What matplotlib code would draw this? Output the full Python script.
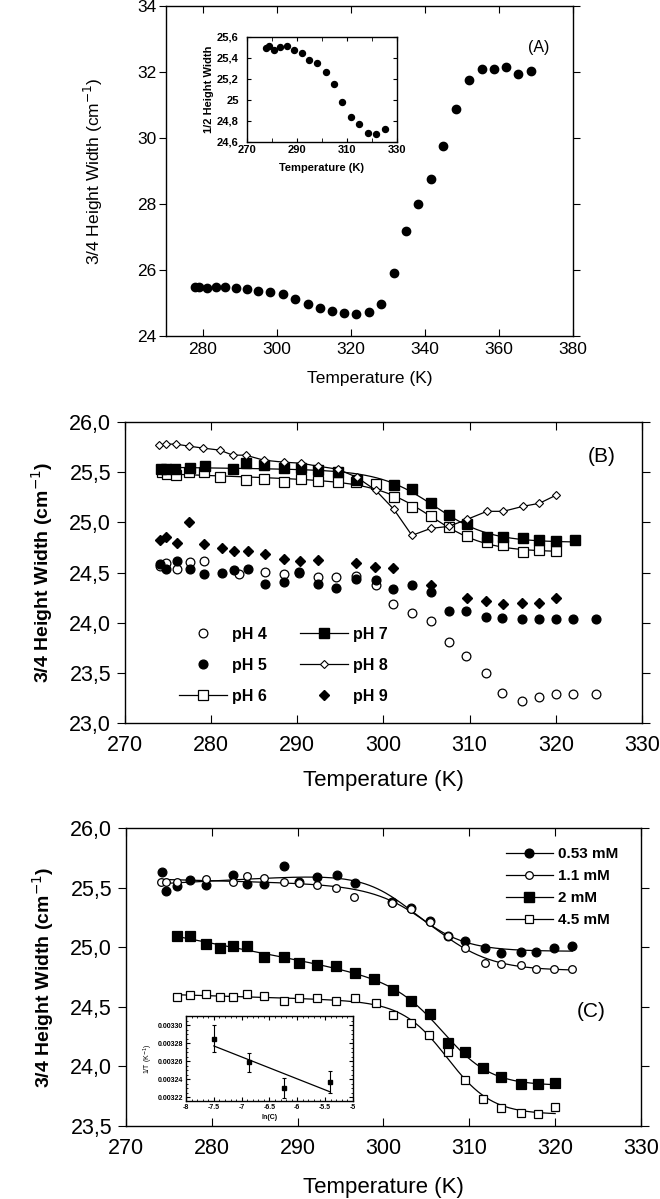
import matplotlib
matplotlib.use('Agg')
import matplotlib.pyplot as plt
from matplotlib.ticker import FuncFormatter, MultipleLocator, AutoMinorLocator
from matplotlib.lines import Line2D
import numpy as np

plt.rcParams['font.family'] = ['Liberation Sans', 'DejaVu Sans']
plt.rcParams['axes.unicode_minus'] = False
plt.rcParams['axes.linewidth'] = 1.0

# ---- panel A : 3/4 height width vs temperature
a_temp = [277.8, 279.0, 281.0, 283.4, 286.0, 288.9, 291.8, 294.9, 298.2, 301.7,
          305.0, 308.3, 311.5, 314.8, 318.1, 321.4, 324.8, 328.2, 331.6, 334.9,
          338.2, 341.7, 344.9, 348.3, 351.8, 355.3, 358.7, 362.0, 365.2, 368.7]
a_width = [25.47, 25.49, 25.45, 25.49, 25.49, 25.46, 25.43, 25.36, 25.33, 25.26,
           25.13, 24.98, 24.84, 24.77, 24.69, 24.68, 24.72, 24.96, 25.91, 27.19,
           28.00, 28.76, 29.76, 30.89, 31.75, 32.08, 32.08, 32.15, 31.95, 32.02]

# inset of panel A : 1/2 height width
ai_temp = [277.6, 278.9, 281.0, 283.2, 285.9, 288.9, 292.0, 295.0, 298.0, 301.7,
           305.0, 308.1, 311.6, 314.9, 318.4, 321.7, 325.2]
ai_width = [25.49, 25.51, 25.48, 25.50, 25.51, 25.48, 25.45, 25.38, 25.35, 25.27,
            25.15, 24.98, 24.84, 24.77, 24.69, 24.68, 24.72]

# ---- panel B : pH series
ph4_t = [274.1, 274.8, 276.0, 277.5, 279.2, 283.2, 286.3, 288.5, 290.2, 292.4,
         294.5, 296.8, 299.1, 301.1, 303.3, 305.5, 307.6, 309.6, 311.9, 313.8,
         316.1, 318.0, 320.0, 322.0, 324.7]
ph4_w = [24.57, 24.59, 24.54, 24.60, 24.61, 24.49, 24.51, 24.49, 24.50, 24.46,
         24.46, 24.47, 24.38, 24.19, 24.10, 24.02, 23.81, 23.67, 23.50, 23.30,
         23.22, 23.26, 23.29, 23.29, 23.29]

ph5_t = [274.1, 274.8, 276.0, 277.5, 279.2, 281.2, 282.6, 284.3, 286.3, 288.5,
         290.2, 292.4, 294.5, 296.8, 299.1, 301.1, 303.3, 305.5, 307.6, 309.6,
         311.9, 313.8, 316.1, 318.0, 320.0, 322.0, 324.7]
ph5_w = [24.58, 24.54, 24.61, 24.54, 24.49, 24.50, 24.53, 24.54, 24.39, 24.41,
         24.51, 24.39, 24.35, 24.44, 24.43, 24.34, 24.38, 24.31, 24.12, 24.12,
         24.06, 24.05, 24.04, 24.04, 24.04, 24.04, 24.04]

ph6_t = [274.3, 274.9, 275.9, 277.4, 279.2, 281.0, 284.0, 286.1, 288.4, 290.4,
         292.4, 294.7, 296.8, 299.1, 301.2, 303.3, 305.5, 307.6, 309.7, 312.0,
         313.9, 316.2, 318.1, 320.0]
ph6_w = [25.50, 25.48, 25.47, 25.50, 25.50, 25.45, 25.42, 25.43, 25.40, 25.43,
         25.41, 25.40, 25.40, 25.38, 25.25, 25.15, 25.06, 24.95, 24.86, 24.80,
         24.77, 24.70, 24.72, 24.71]

ph7_t = [274.2, 274.8, 275.8, 277.5, 279.3, 282.5, 284.0, 286.1, 288.4, 290.4,
         292.4, 294.7, 296.9, 301.2, 303.3, 305.5, 307.6, 309.7, 312.0, 313.9,
         316.2, 318.1, 320.0, 322.2]
ph7_w = [25.53, 25.53, 25.53, 25.54, 25.56, 25.53, 25.59, 25.57, 25.54, 25.54,
         25.52, 25.50, 25.42, 25.37, 25.33, 25.19, 25.07, 24.98, 24.85, 24.85,
         24.84, 24.82, 24.81, 24.82]

ph8_t = [274.0, 274.7, 275.9, 277.4, 279.1, 281.0, 282.5, 284.0, 286.1, 288.4,
         290.4, 292.4, 294.7, 296.9, 299.1, 301.2, 303.3, 305.5, 307.6, 309.7,
         312.0, 313.9, 316.2, 318.1, 320.0]
ph8_w = [25.77, 25.78, 25.78, 25.76, 25.74, 25.72, 25.67, 25.67, 25.62, 25.60,
         25.59, 25.56, 25.53, 25.45, 25.32, 25.13, 24.87, 24.94, 24.96, 25.03,
         25.11, 25.11, 25.16, 25.19, 25.27]

ph9_t = [274.1, 274.8, 276.0, 277.4, 279.2, 281.2, 282.6, 284.3, 286.3, 288.4,
         290.3, 292.4, 296.8, 299.0, 301.1, 305.5, 309.7, 311.9, 313.9, 316.1,
         318.0, 320.0]
ph9_w = [24.82, 24.85, 24.79, 25.00, 24.78, 24.74, 24.71, 24.71, 24.68, 24.63,
         24.61, 24.62, 24.59, 24.56, 24.55, 24.38, 24.25, 24.22, 24.19, 24.20,
         24.20, 24.25]

# ---- panel C : concentration series
c053_t = [274.2, 274.7, 276.0, 277.5, 279.3, 282.5, 284.1, 286.1, 288.4, 290.2,
          292.3, 294.6, 296.7, 301.0, 303.2, 305.4, 307.5, 309.5, 311.8, 313.7,
          316.0, 317.8, 319.9, 322.0]
c053_w = [25.63, 25.47, 25.51, 25.56, 25.52, 25.61, 25.53, 25.53, 25.68, 25.55,
          25.59, 25.61, 25.54, 25.38, 25.33, 25.22, 25.09, 25.05, 24.99, 24.95,
          24.96, 24.96, 24.99, 25.01]

c11_t = [274.1, 274.7, 276.0, 279.3, 282.5, 284.1, 286.1, 288.4, 290.2, 292.3,
         294.5, 296.6, 301.0, 303.2, 305.4, 307.5, 309.5, 311.8, 313.7, 316.0,
         317.8, 319.9, 322.0]
c11_w = [25.55, 25.55, 25.55, 25.57, 25.55, 25.60, 25.58, 25.55, 25.54, 25.52,
         25.50, 25.42, 25.37, 25.32, 25.21, 25.09, 24.99, 24.87, 24.86, 24.85,
         24.82, 24.82, 24.82]

c2_t = [276.0, 277.5, 279.3, 281.0, 282.5, 284.1, 286.1, 288.4, 290.2, 292.3,
        294.5, 296.7, 298.9, 301.1, 303.2, 305.4, 307.5, 309.5, 311.6, 313.7,
        316.0, 318.0, 320.0]
c2_w = [25.09, 25.09, 25.03, 24.99, 25.01, 25.01, 24.92, 24.92, 24.87, 24.85,
        24.84, 24.78, 24.73, 24.64, 24.55, 24.44, 24.20, 24.12, 23.99, 23.91,
        23.85, 23.85, 23.86]

c45_t = [276.0, 277.5, 279.3, 281.0, 282.5, 284.1, 286.1, 288.4, 290.2, 292.3,
         294.5, 296.7, 299.1, 301.1, 303.2, 305.3, 307.5, 309.5, 311.6, 313.7,
         316.0, 318.0, 320.0]
c45_w = [24.58, 24.60, 24.61, 24.58, 24.58, 24.61, 24.59, 24.55, 24.57, 24.57,
         24.55, 24.57, 24.53, 24.43, 24.36, 24.26, 24.12, 23.89, 23.73, 23.65,
         23.61, 23.60, 23.66]

# inset of panel C : 1/T vs ln(C)
lnc = [-7.50, -6.86, -6.24, -5.42]
inv_t = [0.003285, 0.003259, 0.003230, 0.003237]
inv_t_err = [0.000015, 0.0000105, 0.000011, 0.000012]


def comma(v, pos):
    s = '%g' % round(v, 3)
    return s.replace('.', ',')


def comma1(v, pos):
    return ('%.1f' % v).replace('.', ',')


# sigmoid (Boltzmann with sloping low-T baseline) least-squares fit of a series,
# grid search on midpoint/width, linear solve for the rest
def sigmoid_fit(t, w):
    t = np.asarray(t, float)
    w = np.asarray(w, float)
    best = None
    for t0 in np.arange(295.0, 316.0, 0.25):
        for dw in np.arange(0.8, 8.0, 0.2):
            f = 1.0 / (1.0 + np.exp((t - t0) / dw))
            A = np.column_stack([f, (t - t0) * f, 1.0 - f])
            coef, res, rk, sv = np.linalg.lstsq(A, w, rcond=None)
            err = np.sum((A @ coef - w) ** 2)
            if best is None or err < best[0]:
                best = (err, t0, dw, coef)
    err, t0, dw, coef = best
    tt = np.linspace(t[0], t[-1], 300)
    f = 1.0 / (1.0 + np.exp((tt - t0) / dw))
    return tt, coef[0] * f + coef[1] * (tt - t0) * f + coef[2] * (1.0 - f)


fig = plt.figure(figsize=(6.6, 11.99), dpi=100)

# ================= panel A
axA = fig.add_axes([0.2515, 0.7198, 0.6167, 0.2752])
axA.plot(a_temp, a_width, 'o', color='black', ms=6)
axA.set_xlim(270, 380)
axA.set_ylim(24, 34)
axA.set_xticks(np.arange(280, 381, 20))
axA.set_yticks(np.arange(24, 35, 2))
axA.tick_params(axis='both', labelsize=12.5, top=True, right=True, direction='in', length=5)
axA.tick_params(axis='y', which='both', left=True, direction='out', pad=2)
axA.tick_params(axis='x', pad=4)
axA.set_xlabel('Temperature (K)', fontsize=12.5)
axA.set_ylabel('3/4 Height Width (cm$^{-1}$)', fontsize=12.5)
axA.xaxis.set_label_coords(0.5, -0.105)
axA.yaxis.set_label_coords(-0.15, 0.5)
axA.text(0.915, 0.875, '(A)', transform=axA.transAxes, fontsize=11.5,
         ha='center', va='center')

axAi = fig.add_axes([0.3742, 0.8816, 0.2273, 0.0876])
axAi.plot(ai_temp, ai_width, 'o', color='black', ms=4.3)
axAi.set_xlim(270, 330)
axAi.set_ylim(24.6, 25.6)
axAi.set_xticks([270, 290, 310, 330])
axAi.xaxis.set_minor_locator(MultipleLocator(10))
axAi.set_yticks(np.arange(24.6, 25.61, 0.2))
axAi.yaxis.set_major_formatter(FuncFormatter(comma))
axAi.tick_params(axis='both', which='both', direction='in', top=True, right=True,
                 labelsize=8, length=3)
axAi.tick_params(axis='x', pad=2)
axAi.tick_params(axis='y', pad=6)
for lab in axAi.get_xticklabels() + axAi.get_yticklabels():
    lab.set_fontweight('bold')
axAi.set_xlabel('Temperature (K)', fontsize=8, fontweight='bold', labelpad=6)
axAi.set_ylabel('1/2 Height Width', fontsize=8, fontweight='bold', labelpad=2)

# ================= panel B
axB = fig.add_axes([0.1894, 0.3970, 0.7833, 0.2510])
axB.plot(ph4_t, ph4_w, 'o', mfc='white', mec='black', mew=0.9, ms=6.3, ls='none')
axB.plot(ph5_t, ph5_w, 'o', color='black', ms=6.3, ls='none')
tt, ff = sigmoid_fit(ph6_t, ph6_w)
axB.plot(tt, ff, color='black', lw=0.9)
axB.plot(ph6_t, ph6_w, 's', mfc='white', mec='black', mew=0.9, ms=6.5, ls='none')
tt, ff = sigmoid_fit(ph7_t, ph7_w)
axB.plot(tt, ff, color='black', lw=0.9)
axB.plot(ph7_t, ph7_w, 's', color='black', ms=6.5, ls='none')
axB.plot(ph8_t, ph8_w, 'D', mfc='white', mec='black', mew=0.8, ms=4, color='black',
         ls='-', lw=0.9)
axB.plot(ph9_t, ph9_w, 'D', color='black', ms=5, ls='none')
axB.set_xlim(270, 330)
axB.set_ylim(23, 26)
axB.set_xticks(np.arange(270, 331, 10))
axB.set_yticks(np.arange(23, 26.01, 0.5))
axB.yaxis.set_major_formatter(FuncFormatter(comma1))
axB.tick_params(axis='both', labelsize=15.5, top=True, right=True, direction='in', length=6)
axB.tick_params(axis='y', left=True, direction='out', pad=4)
axB.tick_params(axis='x', pad=9)
axB.set_xlabel('Temperature (K)', fontsize=16)
axB.set_ylabel('3/4 Height Width (cm$^{-1}$)', fontsize=14, fontweight='bold')
axB.xaxis.set_label_coords(0.5, -0.155)
axB.yaxis.set_label_coords(-0.135, 0.5)
axB.text(0.923, 0.885, '(B)', transform=axB.transAxes, fontsize=15,
         ha='center', va='center')
hB = [Line2D([], [], ls='none', marker='o', mfc='white', mec='black', mew=0.9, ms=6.3),
      Line2D([], [], ls='none', marker='o', color='black', ms=6.3),
      Line2D([], [], ls='-', lw=0.9, marker='s', mfc='white', mec='black', mew=0.9,
             color='black', ms=6.5),
      Line2D([], [], ls='-', lw=0.9, marker='s', color='black', ms=6.5),
      Line2D([], [], ls='-', lw=0.9, marker='D', mfc='white', mec='black', mew=0.8,
             color='black', ms=4),
      Line2D([], [], ls='none', marker='D', color='black', ms=5)]
axB.legend(hB, ['pH 4', 'pH 5', 'pH 6', 'pH 7', 'pH 8', 'pH 9'], ncol=2,
           loc='upper left', bbox_to_anchor=(0.105, 0.32), frameon=False,
           prop={'size': 11.5, 'weight': 'bold'}, handlelength=3.0,
           handletextpad=0.3, columnspacing=2.1, labelspacing=1.0,
           borderpad=0, borderaxespad=0)

# ================= panel C
axC = fig.add_axes([0.1909, 0.0609, 0.7803, 0.2485])
for t, w, mk, filled, ms in [(c053_t, c053_w, 'o', True, 6.3),
                             (c11_t, c11_w, 'o', False, 5.5),
                             (c2_t, c2_w, 's', True, 6.5),
                             (c45_t, c45_w, 's', False, 6)]:
    tt, ff = sigmoid_fit(t, w)
    axC.plot(tt, ff, color='black', lw=0.9)
    axC.plot(t, w, mk, ms=ms, ls='none', mec='black', mew=0.9,
             mfc='black' if filled else 'white')
axC.set_xlim(270, 330)
axC.set_ylim(23.5, 26)
axC.set_xticks(np.arange(270, 331, 10))
axC.set_yticks(np.arange(23.5, 26.01, 0.5))
axC.yaxis.set_major_formatter(FuncFormatter(comma1))
axC.tick_params(axis='both', labelsize=15.5, top=True, right=True, direction='in', length=6)
axC.tick_params(axis='y', left=True, direction='out', pad=4)
axC.tick_params(axis='x', pad=9)
axC.set_xlabel('Temperature (K)', fontsize=16)
axC.set_ylabel('3/4 Height Width (cm$^{-1}$)', fontsize=14, fontweight='bold')
axC.xaxis.set_label_coords(0.5, -0.17)
axC.yaxis.set_label_coords(-0.135, 0.5)
axC.text(0.903, 0.385, '(C)', transform=axC.transAxes, fontsize=15,
         ha='center', va='center')
hC = [Line2D([], [], ls='-', lw=0.9, marker='o', color='black', ms=6.3),
      Line2D([], [], ls='-', lw=0.9, marker='o', mfc='white', mec='black', mew=0.9,
             color='black', ms=5.5),
      Line2D([], [], ls='-', lw=0.9, marker='s', color='black', ms=6.5),
      Line2D([], [], ls='-', lw=0.9, marker='s', mfc='white', mec='black', mew=0.9,
             color='black', ms=6)]
axC.legend(hC, ['0.53 mM', '1.1 mM', '2 mM', '4.5 mM'], loc='upper right',
           bbox_to_anchor=(0.955, 0.935), frameon=False,
           prop={'size': 11, 'weight': 'bold'}, handlelength=3.1,
           handletextpad=0.3, labelspacing=0.52, borderpad=0, borderaxespad=0)

# inset of panel C
axCi = fig.add_axes([0.2818, 0.0817, 0.2530, 0.0709])
fit = np.polyfit(lnc, inv_t, 1)
axCi.plot([lnc[0], lnc[-1]], np.polyval(fit, [lnc[0], lnc[-1]]), color='black', lw=0.9)
axCi.errorbar(lnc, inv_t, yerr=inv_t_err, fmt='s', color='black', ms=3,
              elinewidth=0.8, capsize=1.5, capthick=0.8)
axCi.set_xlim(-8, -5)
axCi.set_ylim(0.003216, 0.00331)
axCi.set_xticks(np.arange(-8, -4.99, 0.5))
axCi.set_xticklabels(['-8', '-7.5', '-7', '-6.5', '-6', '-5.5', '-5'])
axCi.set_yticks([0.00322, 0.00324, 0.00326, 0.00328, 0.00330])
axCi.yaxis.set_major_formatter(FuncFormatter(lambda v, p: '%.5f' % v))
axCi.xaxis.set_minor_locator(AutoMinorLocator(5))
axCi.yaxis.set_minor_locator(AutoMinorLocator(4))
axCi.tick_params(axis='both', which='both', direction='in', top=True, right=True,
                 labelsize=5, pad=2)
axCi.tick_params(which='major', length=3)
axCi.tick_params(which='minor', length=1.5)
for lab in axCi.get_xticklabels() + axCi.get_yticklabels():
    lab.set_fontweight('bold')
axCi.set_xlabel('ln(C)', fontsize=5, fontweight='bold', labelpad=2)
axCi.set_ylabel('1/T (K$^{-1}$)', fontsize=5, labelpad=2)

fig.savefig('out.png', dpi=100)
